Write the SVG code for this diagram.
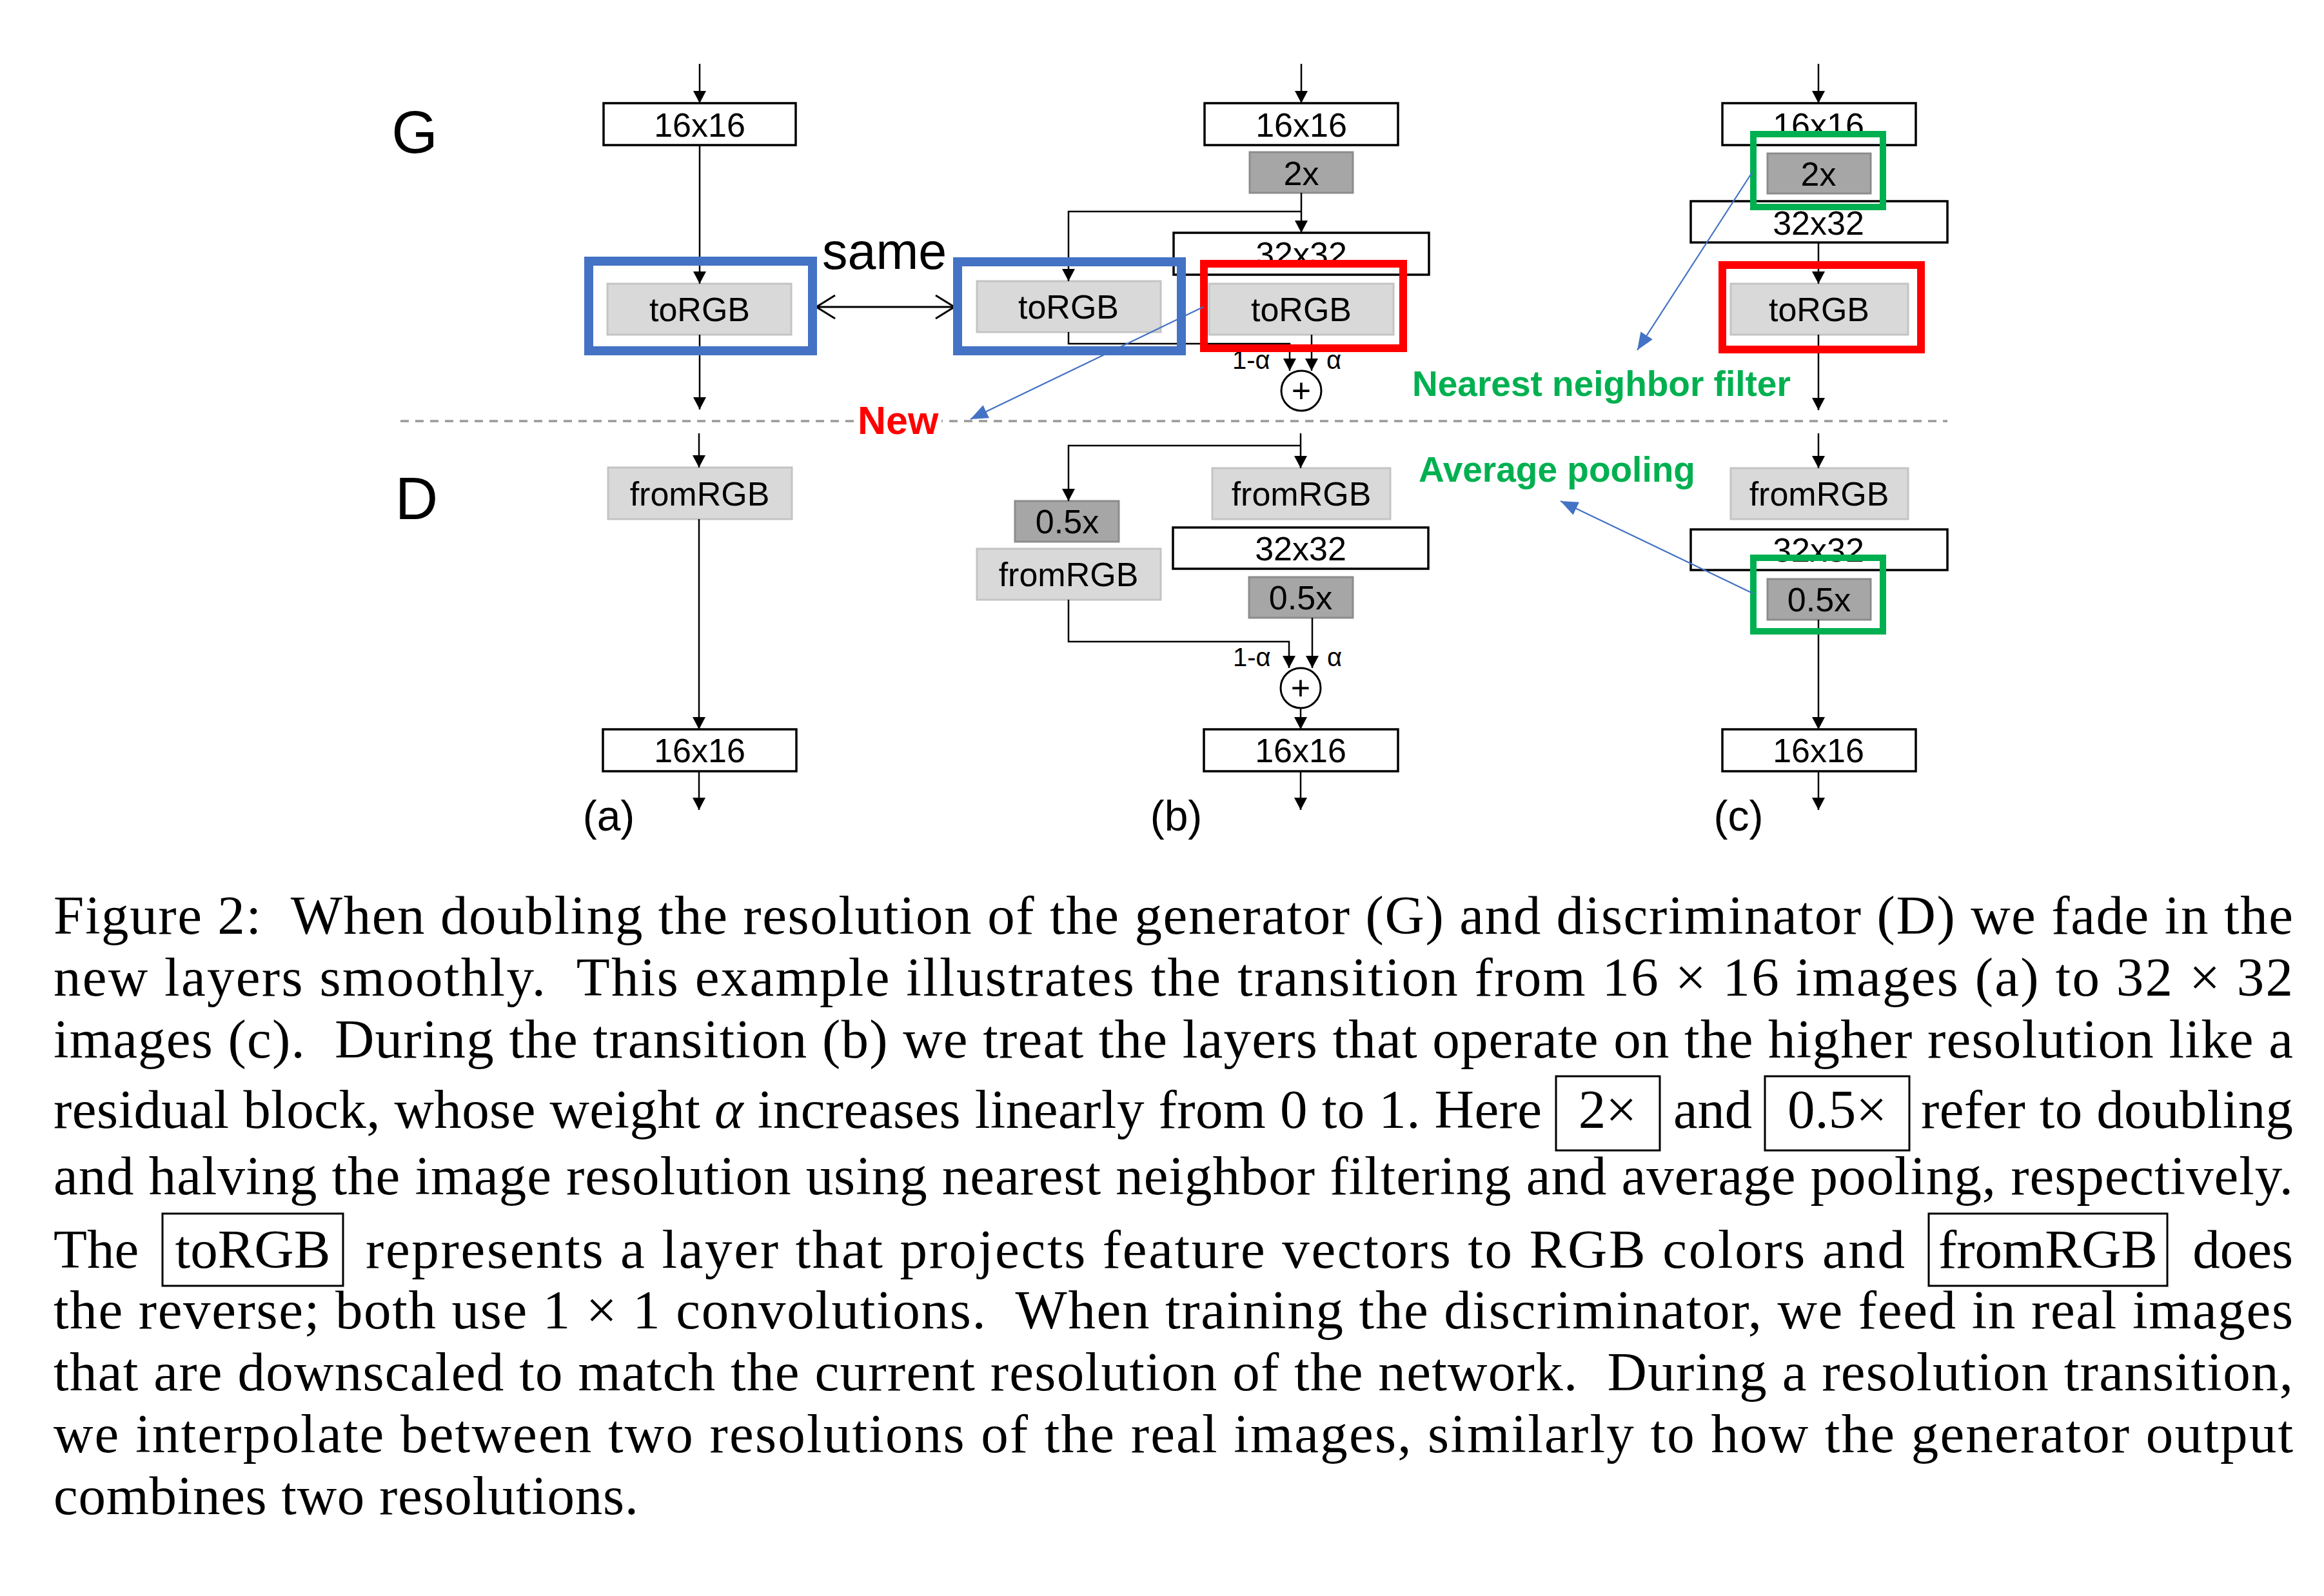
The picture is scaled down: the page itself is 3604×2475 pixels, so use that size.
<svg xmlns="http://www.w3.org/2000/svg" width="3604" height="2475" viewBox="0 0 3604 2475">
<style>
.box{fill:#fff;stroke:#000;stroke-width:3.5}
.gray{fill:#d9d9d9;stroke:#c4c4c4;stroke-width:3}
.dark{fill:#a6a6a6;stroke:#8c8c8c;stroke-width:3}
.lbl{font-family:'Liberation Sans',Arial,sans-serif;font-size:52px;text-anchor:middle;fill:#000}
.sm{font-family:'Liberation Sans',Arial,sans-serif;font-size:40px;fill:#000}
.big{font-family:'Liberation Sans',Arial,sans-serif;font-size:92px;text-anchor:middle;fill:#000}
.sub{font-family:'Liberation Sans',Arial,sans-serif;font-size:66px;text-anchor:middle;fill:#000}
.conn{fill:none;stroke:#000;stroke-width:2.5}
.hl-blue{fill:none;stroke:#4472c4;stroke-width:14}
.hl-red{fill:none;stroke:#ff0000;stroke-width:12}
.hl-green{fill:none;stroke:#00b050;stroke-width:10}
.barrow{fill:none;stroke:#4472c4;stroke-width:2.2}
.note{font-family:'Liberation Sans',Arial,sans-serif;font-weight:bold;font-size:55px;fill:#00b050}
.cap{font-family:'Liberation Serif','Times New Roman',serif;font-size:85px;fill:#000}
.pre{white-space:pre}
.capbox{fill:none;stroke:#000;stroke-width:3}
</style>
<defs>
<marker id="ah" markerWidth="20" markerHeight="20" refX="19" refY="10" orient="auto" markerUnits="userSpaceOnUse"><path d="M0,0 L19,10 L0,20 z" fill="#000"/></marker>
<marker id="bh" markerWidth="28" markerHeight="24" refX="27" refY="12" orient="auto" markerUnits="userSpaceOnUse"><path d="M0,1 L27,12 L0,23 z" fill="#4472c4"/></marker>
<marker id="oh" markerWidth="34" markerHeight="40" refX="31" refY="20" orient="auto-start-reverse" markerUnits="userSpaceOnUse"><path d="M2,2 L31,20 L2,38" fill="none" stroke="#000" stroke-width="3"/></marker>
</defs>
<rect width="3604" height="2475" fill="#fff"/>

<!-- section labels -->
<text class="big" x="643" y="237">G</text>
<text class="big" x="646" y="805">D</text>

<!-- dashed separator -->
<line x1="621" y1="653" x2="3020" y2="653" stroke="#999" stroke-width="3.5" stroke-dasharray="13 10"/>

<!-- ===== G (a) ===== -->
<g id="ga-16x16"><rect class="box" x="936" y="160" width="298" height="65"/><text class="lbl" x="1085" y="212">16x16</text></g>
<g id="ga-torgb"><rect class="gray" x="942" y="440" width="285" height="79"/><text class="lbl" x="1085" y="498">toRGB</text></g>

<!-- ===== G (b) ===== -->
<g id="gb-16x16"><rect class="box" x="1868" y="160" width="300" height="65"/><text class="lbl" x="2018" y="212">16x16</text></g>
<g id="gb-2x"><rect class="dark" x="1938" y="236" width="160" height="63"/><text class="lbl" x="2018" y="287">2x</text></g>
<g id="gb-32x32"><rect class="box" x="1820" y="361" width="396" height="65"/><text class="lbl" x="2018" y="412">32x32</text></g>
<g id="gb-torgb-old"><rect class="gray" x="1515" y="436" width="285" height="79"/><text class="lbl" x="1657" y="494">toRGB</text></g>
<g id="gb-torgb-new"><rect class="gray" x="1875" y="440" width="286" height="79"/><text class="lbl" x="2018" y="498">toRGB</text></g>
<g id="gb-sum"><circle cx="2018" cy="606" r="31" fill="#fff" stroke="#000" stroke-width="3"/><text class="lbl" x="2018" y="624" style="font-size:52px">+</text></g>
<text class="sm" x="1911" y="572">1-α</text>
<text class="sm" x="2057" y="572">α</text>

<!-- ===== G (c) ===== -->
<g id="gc-16x16"><rect class="box" x="2671" y="160" width="300" height="65"/><text class="lbl" x="2820" y="212">16x16</text></g>
<g id="gc-2x"><rect class="dark" x="2741" y="238" width="160" height="62"/><text class="lbl" x="2820" y="288">2x</text></g>
<g id="gc-32x32"><rect class="box" x="2622" y="312" width="398" height="64"/><text class="lbl" x="2820" y="364">32x32</text></g>
<g id="gc-torgb"><rect class="gray" x="2684" y="440" width="275" height="79"/><text class="lbl" x="2821" y="498">toRGB</text></g>

<!-- ===== D (a) ===== -->
<g id="da-fromrgb"><rect class="gray" x="943" y="725" width="285" height="80"/><text class="lbl" x="1085" y="784">fromRGB</text></g>
<g id="da-16x16"><rect class="box" x="935" y="1131" width="300" height="65"/><text class="lbl" x="1085" y="1182">16x16</text></g>

<!-- ===== D (b) ===== -->
<g id="db-fromrgb-new"><rect class="gray" x="1880" y="726" width="276" height="79"/><text class="lbl" x="2018" y="784">fromRGB</text></g>
<g id="db-32x32"><rect class="box" x="1819" y="818" width="396" height="64"/><text class="lbl" x="2017" y="869">32x32</text></g>
<g id="db-05x-new"><rect class="dark" x="1937" y="895" width="161" height="63"/><text class="lbl" x="2017" y="945">0.5x</text></g>
<g id="db-05x-old"><rect class="dark" x="1574" y="777" width="161" height="63"/><text class="lbl" x="1655" y="827">0.5x</text></g>
<g id="db-fromrgb-old"><rect class="gray" x="1515" y="851" width="285" height="79"/><text class="lbl" x="1657" y="909">fromRGB</text></g>
<g id="db-sum"><circle cx="2017" cy="1067" r="31" fill="#fff" stroke="#000" stroke-width="3"/><text class="lbl" x="2017" y="1085" style="font-size:52px">+</text></g>
<text class="sm" x="1912" y="1033">1-α</text>
<text class="sm" x="2058" y="1033">α</text>
<g id="db-16x16"><rect class="box" x="1867" y="1131" width="301" height="65"/><text class="lbl" x="2017" y="1182">16x16</text></g>

<!-- ===== D (c) ===== -->
<g id="dc-fromrgb"><rect class="gray" x="2684" y="726" width="275" height="79"/><text class="lbl" x="2821" y="784">fromRGB</text></g>
<g id="dc-32x32"><rect class="box" x="2622" y="821" width="398" height="63"/><text class="lbl" x="2820" y="871">32x32</text></g>
<g id="dc-05x"><rect class="dark" x="2741" y="898" width="160" height="63"/><text class="lbl" x="2821" y="948">0.5x</text></g>
<g id="dc-16x16"><rect class="box" x="2671" y="1131" width="300" height="65"/><text class="lbl" x="2820" y="1182">16x16</text></g>

<!-- connectors -->
<g id="connectors" class="conn">
<path d="M1085,99 V160" marker-end="url(#ah)"/>
<path d="M1085,225 V440" marker-end="url(#ah)"/>
<path d="M1085,519 V635" marker-end="url(#ah)"/>
<path d="M2018,99 V160" marker-end="url(#ah)"/>
<path d="M2018,299 V361" marker-end="url(#ah)"/>
<path d="M2018,328 H1657 V436" marker-end="url(#ah)"/>
<path d="M1657,515 V533 H2000 V575" marker-end="url(#ah)"/>
<path d="M2034,519 V575" marker-end="url(#ah)"/>
<path d="M2820,99 V160" marker-end="url(#ah)"/>
<path d="M2820,376 V440" marker-end="url(#ah)"/>
<path d="M2820,519 V636" marker-end="url(#ah)"/>
<path d="M1084,672 V725" marker-end="url(#ah)"/>
<path d="M1084,805 V1131" marker-end="url(#ah)"/>
<path d="M1084,1196 V1256" marker-end="url(#ah)"/>
<path d="M2017,672 V726" marker-end="url(#ah)"/>
<path d="M2017,691 H1657 V777" marker-end="url(#ah)"/>
<path d="M1657,930 V995 H1999 V1036" marker-end="url(#ah)"/>
<path d="M2035,958 V1036" marker-end="url(#ah)"/>
<path d="M2017,1098 V1131" marker-end="url(#ah)"/>
<path d="M2017,1196 V1256" marker-end="url(#ah)"/>
<path d="M2820,672 V726" marker-end="url(#ah)"/>
<path d="M2820,961 V1131" marker-end="url(#ah)"/>
<path d="M2820,1196 V1256" marker-end="url(#ah)"/>
<path d="M1266,476 H1480" stroke-width="3" marker-start="url(#oh)" marker-end="url(#oh)"/>
</g>

<!-- highlight frames -->
<g id="highlights">
<rect class="hl-blue" x="913" y="405" width="347" height="139"/>
<rect class="hl-blue" x="1485" y="406" width="347" height="138"/>
<rect class="hl-red" x="1867" y="409" width="309" height="131"/>
<rect class="hl-red" x="2671" y="411" width="308" height="131"/>
<rect class="hl-green" x="2719" y="208" width="201" height="113"/>
<rect class="hl-green" x="2719" y="865" width="201" height="114"/>
</g>

<!-- annotations -->
<g id="annotations">
<text x="1275" y="417" style="font-family:'Liberation Sans',Arial,sans-serif;font-size:79px;fill:#000">same</text>
<rect x="1326" y="622" width="134" height="58" fill="#fff"/>
<text x="1330" y="673" style="font-family:'Liberation Sans',Arial,sans-serif;font-weight:bold;font-size:61px;fill:#ff0000">New</text>
<text class="note" x="2190" y="614">Nearest neighbor filter</text>
<text class="note" x="2200" y="747">Average pooling</text>
<path class="barrow" d="M1866,476 L1505,650" marker-end="url(#bh)"/>
<path class="barrow" d="M2718,266 L2539,543" marker-end="url(#bh)"/>
<path class="barrow" d="M2718,920 L2420,777" marker-end="url(#bh)"/>
</g>

<!-- sub-figure labels -->
<text class="sub" x="944" y="1288">(a)</text>
<text class="sub" x="1824" y="1288">(b)</text>
<text class="sub" x="2696" y="1288">(c)</text>

<!-- caption -->
<g id="caption" class="cap">
<text class="cap pre" x="83" y="1448" textLength="3473" lengthAdjust="spacing">Figure 2:  When doubling the resolution of the generator (G) and discriminator (D) we fade in the</text>
<text class="cap pre" x="83" y="1544" textLength="3473" lengthAdjust="spacing">new layers smoothly.  This example illustrates the transition from 16 × 16 images (a) to 32 × 32</text>
<text class="cap pre" x="83" y="1640" textLength="3473" lengthAdjust="spacing">images (c).  During the transition (b) we treat the layers that operate on the higher resolution like a</text>
<text class="cap" x="83" y="1749" textLength="2308" lengthAdjust="spacing">residual block, whose weight <tspan font-style="italic">α</tspan> increases linearly from 0 to 1. Here</text>
<rect class="capbox" x="2413" y="1669" width="161" height="115"/>
<text class="cap" x="2493" y="1749" text-anchor="middle">2×</text>
<text class="cap" x="2595" y="1749" textLength="122" lengthAdjust="spacingAndGlyphs">and</text>
<rect class="capbox" x="2737" y="1669" width="224" height="115"/>
<text class="cap" x="2849" y="1749" text-anchor="middle">0.5×</text>
<text class="cap" x="2979" y="1749" textLength="577" lengthAdjust="spacing">refer to doubling</text>
<text class="cap" x="83" y="1852" textLength="3473" lengthAdjust="spacing">and halving the image resolution using nearest neighbor filtering and average pooling, respectively.</text>
<text class="cap" x="83" y="1966">The</text>
<rect class="capbox" x="252" y="1882" width="280" height="112"/>
<text class="cap" x="392" y="1966" text-anchor="middle">toRGB</text>
<text class="cap" x="567" y="1966" textLength="2387" lengthAdjust="spacing">represents a layer that projects feature vectors to RGB colors and</text>
<rect class="capbox" x="2991" y="1882" width="370" height="112"/>
<text class="cap" x="3176" y="1966" text-anchor="middle">fromRGB</text>
<text class="cap" x="3556" y="1966" text-anchor="end">does</text>
<text class="cap pre" x="83" y="2060" textLength="3473" lengthAdjust="spacing">the reverse; both use 1 × 1 convolutions.  When training the discriminator, we feed in real images</text>
<text class="cap pre" x="83" y="2156" textLength="3473" lengthAdjust="spacing">that are downscaled to match the current resolution of the network.  During a resolution transition,</text>
<text class="cap" x="83" y="2252" textLength="3473" lengthAdjust="spacing">we interpolate between two resolutions of the real images, similarly to how the generator output</text>
<text class="cap" x="83" y="2348" textLength="907" lengthAdjust="spacing">combines two resolutions.</text>
</g>
</svg>
